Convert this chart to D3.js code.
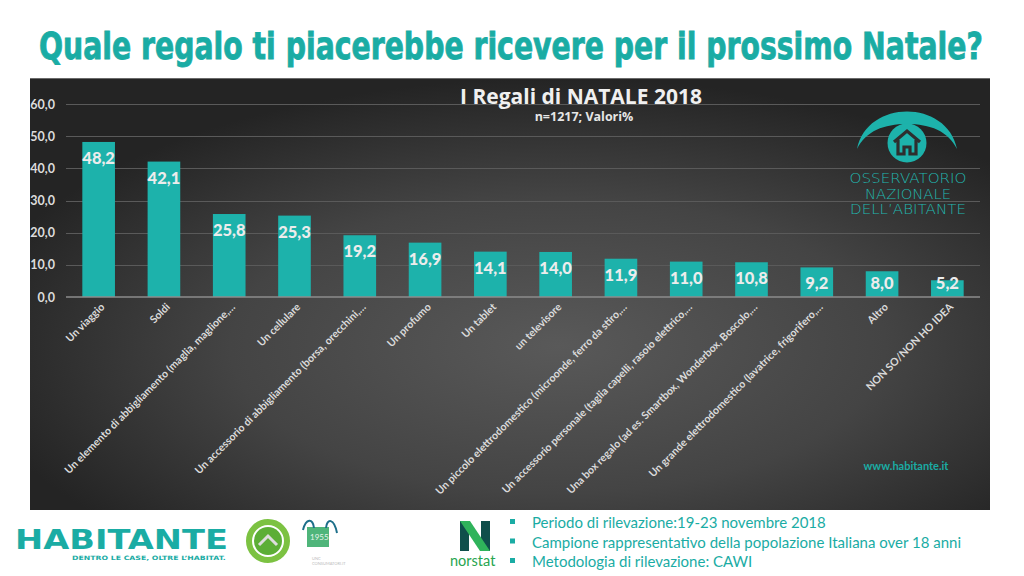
<!DOCTYPE html>
<html><head><meta charset="utf-8">
<script src="https://cdn.jsdelivr.net/npm/d3@7"></script>
<style>
html,body{margin:0;padding:0;background:#fff;}
svg{display:block;}
</style></head>
<body>
<svg id="c" width="1024" height="576"></svg>
<script>
const categories = [
  "Un viaggio",
  "Soldi",
  "Un elemento di abbigliamento (maglia, maglione,…",
  "Un cellulare",
  "Un accessorio di abbigliamento (borsa, orecchini,…",
  "Un profumo",
  "Un tablet",
  "un televisore",
  "Un piccolo elettrodomestico (microonde, ferro da stiro,…",
  "Un accessorio personale (taglia capelli, rasoio elettrico,…",
  "Una box regalo (ad es. Smartbox, Wonderbox, Boscolo,…",
  "Un grande elettrodomestico (lavatrice, frigorifero,…",
  "Altro",
  "NON SO/NON HO IDEA"
];
const values = [48.2, 42.1, 25.8, 25.3, 19.2, 16.9, 14.1, 14.0, 11.9, 11.0, 10.8, 9.2, 8.0, 5.2];
const yTicks = [0, 10, 20, 30, 40, 50, 60];
const pageTitle = "Quale regalo ti piacerebbe ricevere per il prossimo Natale?";
const chartTitle = "I Regali di NATALE 2018";
const chartSubtitle = "n=1217; Valori%";
const logoLines = ["OSSERVATORIO", "NAZIONALE", "DELL’ABITANTE"];
const notes = [
  "Periodo di rilevazione:19-23 novembre 2018",
  "Campione rappresentativo della popolazione Italiana over 18 anni",
  "Metodologia di rilevazione: CAWI"
];

const TEAL = "#1db2ab";
const TEXT_TEAL = "#1aaca4";
const fmt = v => d3.format(".1f")(v).replace(".", ",");

const svg = d3.select("#c");
const defs = svg.append("defs");
const rg = defs.append("radialGradient").attr("id", "bg")
  .attr("cx", "55%").attr("cy", "62%").attr("r", "62%").attr("fx", "55%").attr("fy", "62%");
rg.append("stop").attr("offset", "0%").attr("stop-color", "#595959");
rg.append("stop").attr("offset", "55%").attr("stop-color", "#444");
rg.append("stop").attr("offset", "100%").attr("stop-color", "#242424");

// fit a text horizontally by scaling it
function fitX(sel, x0, width) {
  const w = sel.node().getComputedTextLength();
  const s = width / w;
  sel.attr("x", 0).attr("transform", `translate(${x0},0) scale(${s},1)`);
}

// page title
const t = svg.append("text").attr("y", 59)
  .style("font-family", "'DejaVu Sans',sans-serif")
  .style("font-weight", "bold").style("font-size", "37px").style("fill", TEXT_TEAL)
  .style("stroke", TEXT_TEAL).style("stroke-width", "0.9px")
  .text(pageTitle);
fitX(t, 39, 944);

// panel
svg.append("rect").attr("x", 30).attr("y", 78).attr("width", 960).attr("height", 432)
  .attr("fill", "url(#bg)");
svg.append("line").attr("x1", 30).attr("x2", 990).attr("y1", 78.5).attr("y2", 78.5)
  .attr("stroke", "#6a6a6a").attr("stroke-width", 1);

const x = d3.scaleBand().domain(categories).range([66, 980]).paddingInner(0.5).paddingOuter(0.25);
const y = d3.scaleLinear().domain([0, 60]).range([297, 104]);

// grid
svg.append("g").selectAll("line").data(yTicks.filter(t => t > 0)).join("line")
  .attr("x1", 66).attr("x2", 980)
  .attr("y1", d => Math.round(y(d)) + 0.5).attr("y2", d => Math.round(y(d)) + 0.5)
  .attr("stroke", "#5a5a5a").attr("stroke-width", 1);

// y axis labels
const yAxis = d3.axisLeft(y).tickValues(yTicks).tickFormat(fmt).tickSize(0).tickPadding(0);
const ya = svg.append("g").attr("transform", "translate(55,0)").call(yAxis);
ya.select(".domain").remove();
ya.selectAll("text").style("font-family", "Lato, sans-serif").style("font-weight", "bold")
  .style("font-size", "12.5px").style("fill", "#dcdcdc");

// bars
svg.append("g").selectAll("rect").data(values).join("rect")
  .attr("x", (d, i) => x(categories[i])).attr("width", x.bandwidth())
  .attr("y", d => y(d)).attr("height", d => y(0) - y(d))
  .attr("fill", TEAL);

// axis line
svg.append("line").attr("x1", 66).attr("x2", 980).attr("y1", y(0)).attr("y2", y(0))
  .attr("stroke", "#8c8c8c").attr("stroke-width", 1.5);

// value labels
svg.append("g").selectAll("text").data(values).join("text")
  .attr("x", (d, i) => x(categories[i]) + x.bandwidth() / 2)
  .attr("y", d => Math.min(y(d) + 16, 283) + 6)
  .attr("text-anchor", "middle")
  .style("font-family", "Lato, sans-serif").style("font-weight", "900")
  .style("font-size", "16.5px").style("fill", "#ececec")
  .text(d => fmt(d));

// x axis labels
const xAxis = d3.axisBottom(x).tickSize(0).tickPadding(0);
const xa = svg.append("g").attr("transform", `translate(0,${y(0)})`).call(xAxis);
xa.select(".domain").remove();
xa.selectAll("text")
  .attr("transform", "translate(4,8) rotate(-45)")
  .attr("text-anchor", "end").attr("dy", "0.35em").attr("y", 0).attr("x", 0)
  .style("font-family", "Lato, sans-serif").style("font-weight", "bold")
  .style("font-size", "10.6px").style("fill", "#dadada");

// chart titles
svg.append("text").attr("x", 581).attr("y", 104).attr("text-anchor", "middle")
  .style("font-family", "'Open Sans', sans-serif").style("font-weight", "bold")
  .style("font-size", "21px").style("fill", "#f0f0f0").text(chartTitle);
svg.append("text").attr("x", 584).attr("y", 121).attr("text-anchor", "middle")
  .style("font-family", "'Open Sans', sans-serif").style("font-weight", "bold")
  .style("font-size", "12.5px").style("fill", "#e6e6e6").text(chartSubtitle);

// eye logo
const eye = svg.append("g");
eye.append("path").attr("d", "M857,149 C867,99 947,99 957,149 C948,131 930,124 907,124 C884,124 866,131 857,149 Z")
  .attr("fill", TEAL);
eye.append("circle").attr("cx", 907).attr("cy", 143).attr("r", 19.5).attr("fill", TEAL);
eye.append("path").attr("d", "M894,142 L907,131 L920,142 M898,140 L898,154 L904,154 L904,147 L910,147 L910,154 L916,154 L916,140")
  .attr("fill", "none").attr("stroke", "#2e2e2e").attr("stroke-width", 3.2).attr("stroke-linejoin", "miter");
svg.append("g").selectAll("text").data(logoLines).join("text")
  .attr("x", 908).attr("y", (d, i) => 183 + i * 15.5).attr("text-anchor", "middle")
  .attr("textLength", (d, i) => [117, 86, 116][i]).attr("lengthAdjust", "spacingAndGlyphs")
  .style("font-family", "'DejaVu Sans', sans-serif").style("font-weight", "300")
  .style("font-size", "13.5px").style("fill", "#22b5ad").text(d => d);

svg.append("text").attr("x", 906).attr("y", 470).attr("text-anchor", "middle")
  .style("font-family", "Lato, sans-serif").style("font-weight", "bold")
  .style("font-size", "11px").style("fill", TEXT_TEAL).text("www.habitante.it");

// bottom-left logos
const hb = svg.append("text").attr("y", 549)
  .style("font-family", "'DejaVu Sans', sans-serif").style("font-weight", "bold")
  .style("font-size", "26px").style("fill", TEXT_TEAL).text("HABITANTE");
fitX(hb, 15, 213);
const hs = svg.append("text").attr("y", 560)
  .style("font-family", "'DejaVu Sans', sans-serif").style("font-weight", "bold")
  .style("font-size", "6px").style("fill", TEXT_TEAL).text("DENTRO LE CASE, OLTRE L’HABITAT.");
fitX(hs, 72, 154);

const g2 = svg.append("g");
g2.append("circle").attr("cx", 268).attr("cy", 541).attr("r", 19).attr("fill", "none")
  .attr("stroke", "#7cc242").attr("stroke-width", 6);
g2.append("circle").attr("cx", 268).attr("cy", 541).attr("r", 14).attr("fill", "#5cae36");
g2.append("path").attr("d", "M259,545 L268,536 L277,545").attr("fill", "none")
  .attr("stroke", "#ddd").attr("stroke-width", 3);
g2.append("rect").attr("x", 307).attr("y", 527).attr("width", 22).attr("height", 20).attr("fill", "#4fb57a");
g2.append("path").attr("d", "M303,530 C306,518 313,518 314,528 M326,528 C327,518 334,518 337,533")
  .attr("fill", "none").attr("stroke", "#1d6f8a").attr("stroke-width", 2);
g2.append("text").attr("x", 310).attr("y", 540).style("font-family", "Lato").style("font-size", "8px")
  .style("fill", "#e8f4ec").text("1955");
g2.append("text").attr("x", 312).attr("y", 560).style("font-family", "Lato").style("font-size", "4px")
  .style("fill", "#bbb").text("UNC");
g2.append("text").attr("x", 312).attr("y", 565).style("font-family", "Lato").style("font-size", "4px")
  .style("fill", "#bbb").text("CONSUMATORI.IT");

// norstat
const n = svg.append("g");
n.append("path").attr("d", "M460,521 L469,521 L469,551 L460,551 Z").attr("fill", "#0f4f4b");
n.append("path").attr("d", "M481,521 L490,521 L490,551 L481,551 Z").attr("fill", "#0f4f4b");
n.append("path").attr("d", "M460,521 L470,521 L490,551 L480,551 Z").attr("fill", "#2fb35b");
svg.append("text").attr("x", 450).attr("y", 566)
  .style("font-family", "Lato, sans-serif").style("font-size", "14.5px").style("fill", "#27a54f").text("norstat");

// notes
const ng = svg.append("g");
ng.selectAll("rect").data(notes).join("rect")
  .attr("x", 510).attr("y", (d, i) => 519 + i * 19.5).attr("width", 5).attr("height", 5).attr("fill", TEXT_TEAL);
ng.selectAll("text").data(notes).join("text")
  .attr("x", 532).attr("y", (d, i) => 528 + i * 19.5)
  .style("font-family", "Lato, sans-serif").style("font-size", "15px").style("fill", TEXT_TEAL)
  .text(d => d);
</script>
</body></html>
